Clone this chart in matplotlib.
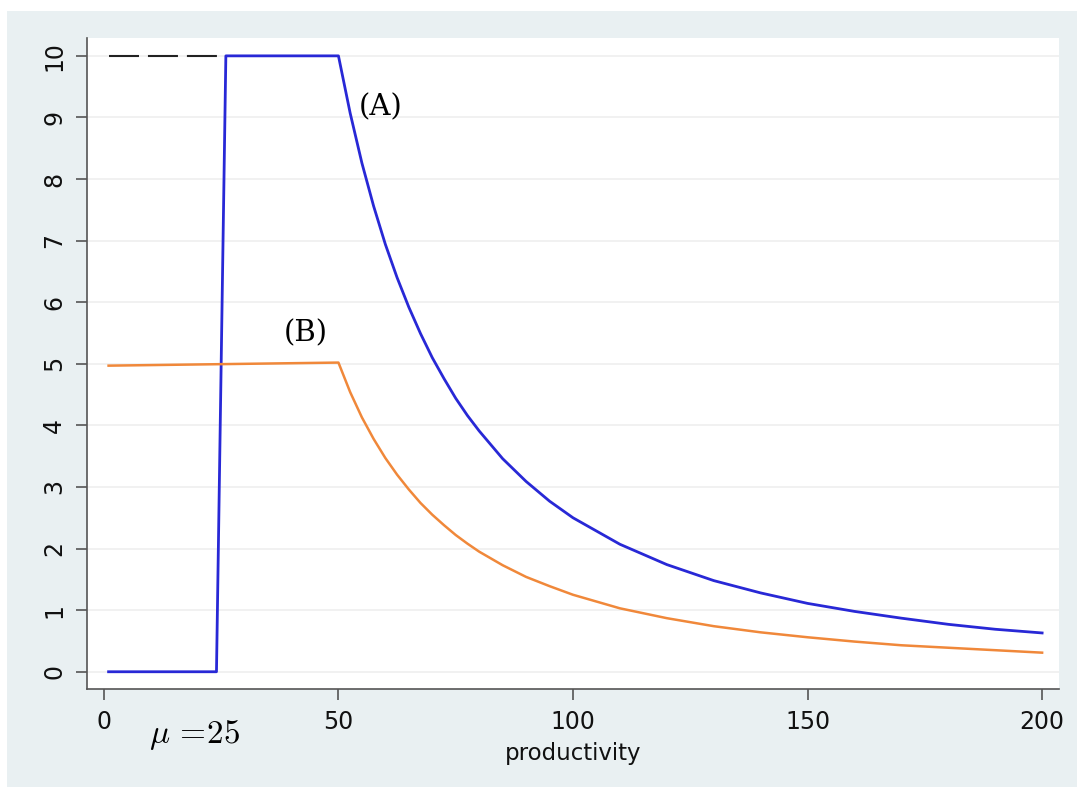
import matplotlib.pyplot as plt
from matplotlib.patches import Rectangle

# curve (A): blue, jumps to 10 near mu, flat to 50, then falls off
x_a = [1, 24, 26, 50, 52.5, 55, 57.5, 60, 62.5, 65, 67.5, 70, 72.5, 75, 77.5, 80, 85,
       90, 95, 100, 110, 120, 130, 140, 150, 160, 170, 180, 190, 200]
y_a = [0, 0, 10, 10, 9.07, 8.26, 7.56, 6.94, 6.40, 5.92, 5.49, 5.10, 4.76, 4.44, 4.16,
       3.91, 3.46, 3.09, 2.77, 2.50, 2.07, 1.74, 1.48, 1.28, 1.11, 0.98, 0.87, 0.77,
       0.69, 0.63]

# curve (B): orange, nearly flat around 5 up to 50, then falls off
x_b = [1, 50, 52.5, 55, 57.5, 60, 62.5, 65, 67.5, 70, 72.5, 75, 77.5, 80, 85, 90, 95,
       100, 110, 120, 130, 140, 150, 160, 170, 180, 190, 200]
y_b = [4.97, 5.02, 4.54, 4.13, 3.78, 3.47, 3.20, 2.96, 2.74, 2.55, 2.38, 2.22, 2.08,
       1.95, 1.73, 1.54, 1.39, 1.25, 1.03, 0.87, 0.74, 0.64, 0.56, 0.49, 0.43, 0.39,
       0.35, 0.31]

# dashed reference at 10 below mu
x_dash = [1, 25]
y_dash = [10, 10]

xticks = [0, 50, 100, 150, 200]
yticks = list(range(0, 11))

plt.rcParams["mathtext.fontset"] = "cm"

fig = plt.figure(figsize=(10.77, 7.87), dpi=100, facecolor="white")
bg = Rectangle((7 / 1077, 0), 1 - 7 / 1077, 1 - 11 / 787,
               transform=fig.transFigure, facecolor="#e9f0f2",
               edgecolor="none", zorder=-10)
fig.patches.append(bg)
ax = fig.add_axes([87 / 1077, 1 - 689 / 787, (1059 - 87) / 1077, (689 - 38) / 787])
ax.set_facecolor("white")

ax.plot(x_dash, y_dash, color="#222222", lw=1.5, linestyle=(0, (14.4, 4.3)))
ax.plot(x_a, y_a, color="#2828d6", lw=2.0)
ax.plot(x_b, y_b, color="#f0883a", lw=1.8)

ax.set_xlim(-3.6, 203.6)
ax.set_ylim(-0.28, 10.29)
ax.set_xticks(xticks)
ax.set_yticks(yticks)
ax.grid(axis="y", color="#efefef", lw=1.2)
ax.set_axisbelow(True)

for s in ["top", "right"]:
    ax.spines[s].set_visible(False)
for s in ["left", "bottom"]:
    ax.spines[s].set_color("#555555")
    ax.spines[s].set_linewidth(1.2)

ax.tick_params(direction="out", length=8, width=1.2, color="#555555",
               labelsize=17)
ax.tick_params(axis="x", pad=7)
ax.tick_params(axis="y", pad=7)
for lab in ax.get_yticklabels():
    lab.set_rotation(90)
    lab.set_va("center")
for lab in ax.get_xticklabels() + ax.get_yticklabels():
    lab.set_color("#111111")

ax.set_xlabel("productivity", fontsize=16.5, labelpad=6, color="#111111")

ax.text(59, 9.17, "(A)", fontsize=21, family="DejaVu Serif", ha="center", va="center")
ax.text(43, 5.5, "(B)", fontsize=21, family="DejaVu Serif", ha="center", va="center")
ax.text(19.4, -1.02, r"$\mu\,=\!25$", fontsize=24, ha="center", va="center",
        clip_on=False)

fig.savefig("out.png", dpi=100, facecolor=fig.get_facecolor())
